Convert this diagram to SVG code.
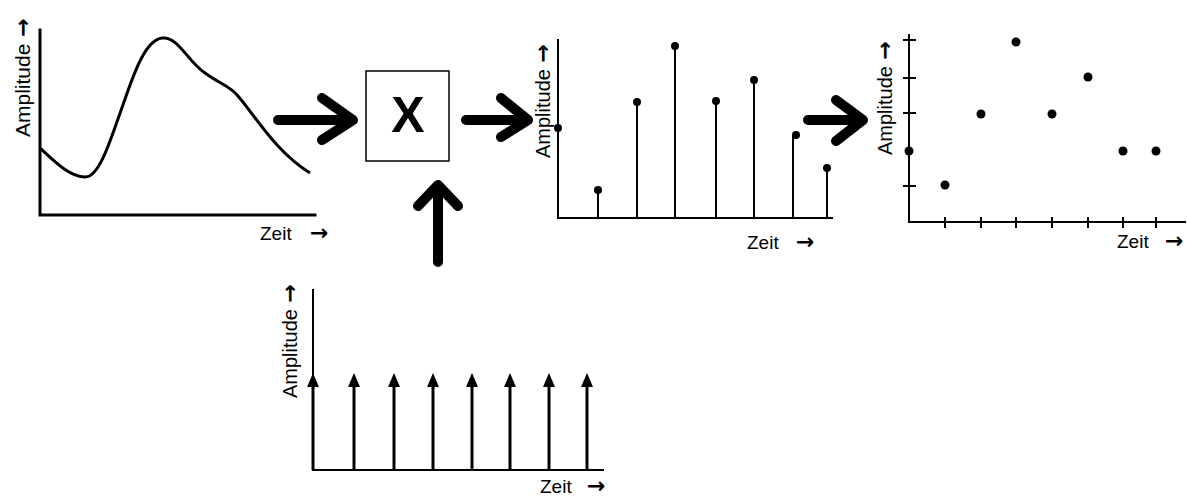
<svg xmlns="http://www.w3.org/2000/svg" width="1187" height="497" viewBox="0 0 1187 497">
<style>
text{font-family:"Liberation Sans",Arial,sans-serif;fill:#000}
.amp{font-size:21px}
.zeit{font-size:19px}
.arr{font-family:"DejaVu Sans",sans-serif;font-size:22px;font-weight:bold}
.ax{stroke:#000;fill:none;stroke-linecap:square}
.stem{stroke:#000;stroke-width:2}
.dot{fill:#000}
.big{stroke:#000;stroke-width:10;fill:none;stroke-linecap:round;stroke-linejoin:round}
</style>
<defs>
<polygon id="ah" points="0,-13 -6,1 6,1" fill="#000"/>
</defs>
<rect width="1187" height="497" fill="#fff"/>

<g id="signal">
<path class="ax" stroke-width="3" d="M40,30 V215 H315"/>
<path d="M40,148 C55,162 70,177 85,177 C100,178 112,135 124,102 C135,70 146,40 162,38 C178,36 188,62 205,73 C220,84 230,86 238,96 C256,117 276,152 310,173" fill="none" stroke="#000" stroke-width="3"/>
<text class="amp" transform="translate(30,137) rotate(-90)">Amplitude <tspan class="arr" dx="1">→</tspan></text>
<text class="zeit" x="260" y="240">Zeit <tspan class="arr" x="310" y="240">→</tspan></text>
</g>

<g id="multiplier">
<rect x="366" y="71" width="83" height="90" fill="#fff" stroke="#000" stroke-width="1.5"/>
<text x="408" y="132" text-anchor="middle" font-size="50" font-weight="bold">X</text>
</g>

<g id="impulses">
<path class="ax" stroke-width="2" d="M313,290 V470 H603"/>
<g stroke="#000" stroke-width="3">
<line x1="313" y1="470" x2="313" y2="380"/>
<line x1="354" y1="470" x2="354" y2="380"/>
<line x1="394" y1="470" x2="394" y2="380"/>
<line x1="433" y1="470" x2="433" y2="380"/>
<line x1="472" y1="470" x2="472" y2="380"/>
<line x1="510" y1="470" x2="510" y2="380"/>
<line x1="549" y1="470" x2="549" y2="380"/>
<line x1="587" y1="470" x2="587" y2="380"/>
</g>
<use href="#ah" x="313" y="386"/>
<use href="#ah" x="354" y="386"/>
<use href="#ah" x="394" y="386"/>
<use href="#ah" x="433" y="386"/>
<use href="#ah" x="472" y="386"/>
<use href="#ah" x="510" y="386"/>
<use href="#ah" x="549" y="386"/>
<use href="#ah" x="587" y="386"/>
<text class="amp" style="font-size:20px" transform="translate(297,398) rotate(-90)">Amplitude <tspan class="arr" dx="1">→</tspan></text>
<text class="zeit" x="540" y="493">Zeit <tspan class="arr" x="587" y="493">→</tspan></text>
</g>

<g id="sampled">
<path class="ax" stroke-width="2" d="M558,40 V218 H832"/>
<g class="stem">
<line x1="598" y1="218" x2="598" y2="190"/>
<line x1="637" y1="218" x2="637" y2="102"/>
<line x1="675" y1="218" x2="675" y2="46"/>
<line x1="716" y1="218" x2="716" y2="101"/>
<line x1="754" y1="218" x2="754" y2="80"/>
<line x1="793" y1="218" x2="793" y2="135"/>
<line x1="827" y1="218" x2="827" y2="168"/>
</g>
<g class="dot">
<circle cx="558" cy="128" r="4"/>
<circle cx="598" cy="190" r="4"/>
<circle cx="637" cy="102" r="4"/>
<circle cx="675" cy="46" r="4"/>
<circle cx="716" cy="101" r="4"/>
<circle cx="754" cy="80" r="4"/>
<circle cx="796" cy="135" r="4"/>
<circle cx="827" cy="168" r="4"/>
</g>
<text class="amp" style="font-size:20px" transform="translate(550,158) rotate(-90)">Amplitude <tspan class="arr" dx="1">→</tspan></text>
<text class="zeit" x="747" y="249">Zeit <tspan class="arr" x="796" y="249">→</tspan></text>
</g>

<g id="discrete">
<path class="ax" stroke-width="2" d="M909,35 V222 H1185"/>
<g stroke="#000" stroke-width="2">
<line x1="903" y1="40" x2="916" y2="40"/>
<line x1="903" y1="78" x2="916" y2="78"/>
<line x1="903" y1="113" x2="916" y2="113"/>
<line x1="903" y1="186" x2="916" y2="186"/>
<line x1="945" y1="217" x2="945" y2="228"/>
<line x1="981" y1="217" x2="981" y2="228"/>
<line x1="1016" y1="217" x2="1016" y2="228"/>
<line x1="1052" y1="217" x2="1052" y2="228"/>
<line x1="1088" y1="217" x2="1088" y2="228"/>
<line x1="1123" y1="217" x2="1123" y2="228"/>
<line x1="1156" y1="217" x2="1156" y2="228"/>
</g>
<g class="dot">
<circle cx="909" cy="151" r="4.5"/>
<circle cx="945" cy="185" r="4.5"/>
<circle cx="981" cy="114" r="4.5"/>
<circle cx="1016" cy="42" r="4.5"/>
<circle cx="1052" cy="114" r="4.5"/>
<circle cx="1088" cy="77" r="4.5"/>
<circle cx="1123" cy="151" r="4.5"/>
<circle cx="1156" cy="151" r="4.5"/>
</g>
<text class="amp" style="font-size:20px" transform="translate(892,155) rotate(-90)">Amplitude <tspan class="arr" dx="1">→</tspan></text>
<text class="zeit" x="1117" y="248">Zeit <tspan class="arr" x="1165" y="248">→</tspan></text>
</g>

<g id="connectors">
<path class="big" d="M278,120 H352 M322,98 L353,120 L322,140"/>
<path class="big" d="M466,120 H527 M501,98 L528,120 L501,137"/>
<path class="big" d="M808,120 H862 M836,100 L863,120 L836,141"/>
<path class="big" d="M438,262 V186 M418,206 L438,185 L458,206"/>
</g>
</svg>
